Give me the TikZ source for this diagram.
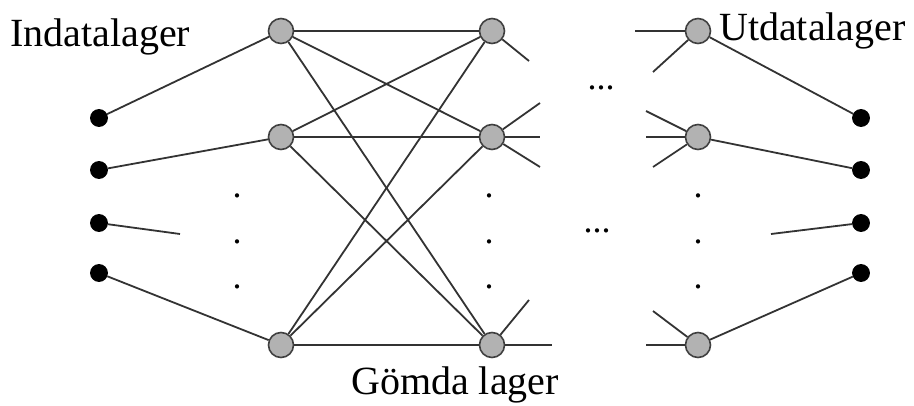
\documentclass[tikz,border=0pt]{standalone}
\usepackage{fontspec}
\setmainfont{Liberation Serif}
\begin{document}
\begin{tikzpicture}[x=1pt,y=-1pt,
  inode/.style={circle,fill=black,draw=black,line width=0.8pt,inner sep=0pt,minimum size=17pt},
  hnode/.style={circle,fill=black!30,draw=black!75,line width=1.6pt,inner sep=0pt,minimum size=25pt},
  link/.style={draw=black!80,line width=1.8pt},
  lbl/.style={inner sep=0pt,anchor=base west,font=\fontsize{40}{48}\selectfont},
  dotlbl/.style={inner sep=0pt,anchor=base,font=\fontsize{36}{40}\selectfont}]
\useasboundingbox (0,0) rectangle (914,406);

% layer labels
\node[lbl] (tin) at (10,47) {Indatalager};
\node[lbl] (tout) at (719,41) {Utdatalager};
\node[lbl] (thid) at (351,395) {Gömda lager};

% input and output units
\foreach \n/\y in {1/118,2/170,3/223,4/273}{
  \node[inode] (i\n) at (99,\y) {};
  \node[inode] (o\n) at (861,\y) {};
}
% hidden units
\foreach \n/\y in {1/31,2/137,3/345}{
  \node[hnode] (a\n) at (281,\y) {};
  \node[hnode] (b\n) at (492,\y) {};
  \node[hnode] (c\n) at (698,\y) {};
}

% free ends of the cut connectors
\coordinate (si3) at (180,234);
\coordinate (so3) at (771,234);
\coordinate (sb1) at (529,61);
\coordinate (sb2u) at (540,103);
\coordinate (sb2h) at (540,137);
\coordinate (sb2d) at (540,167);
\coordinate (sb3u) at (529,300);
\coordinate (sb3h) at (552,345);
\coordinate (sc1h) at (635,31);
\coordinate (sc1d) at (653,72);
\coordinate (sc2u) at (646,111);
\coordinate (sc2h) at (646,137);
\coordinate (sc2d) at (653,167);
\coordinate (sc3u) at (653,311);
\coordinate (sc3h) at (646,345);

% input layer to first hidden layer
\draw[link] (i1) -- (a1);
\draw[link] (i2) -- (a2);
\draw[link] (i3) -- (si3);
\draw[link] (i4) -- (a3);

% first hidden layer to second hidden layer
\foreach \p in {1,2,3}{
  \foreach \q in {1,2,3}{
    \draw[link] (a\p) -- (b\q);
  }
}

% cut connectors leaving the second hidden layer
\draw[link] (b1) -- (sb1);
\draw[link] (b2) -- (sb2u);
\draw[link] (b2) -- (sb2h);
\draw[link] (b2) -- (sb2d);
\draw[link] (b3) -- (sb3u);
\draw[link] (b3) -- (sb3h);

% cut connectors entering the last hidden layer
\draw[link] (sc1h) -- (c1);
\draw[link] (sc1d) -- (c1);
\draw[link] (sc2u) -- (c2);
\draw[link] (sc2h) -- (c2);
\draw[link] (sc2d) -- (c2);
\draw[link] (sc3u) -- (c3);
\draw[link] (sc3h) -- (c3);

% last hidden layer to output layer
\draw[link] (c1) -- (o1);
\draw[link] (c2) -- (o2);
\draw[link] (so3) -- (o3);
\draw[link] (c3) -- (o4);

% omitted units and layers
\foreach \x/\c in {237/a,489/b,698/c}{
  \foreach \y/\k in {198/1,244/2,289/3}{
    \node[dotlbl] (v\c\k) at (\x,\y) {.};
  }
}
\node[dotlbl] (e1) at (601,90) {...};
\node[dotlbl] (e2) at (597,233) {...};
\end{tikzpicture}
\end{document}
